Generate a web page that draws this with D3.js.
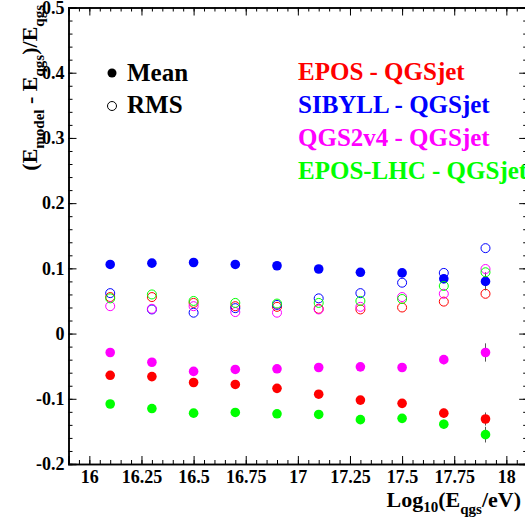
<!DOCTYPE html>
<html>
<head>
<meta charset="utf-8">
<script src="https://cdn.jsdelivr.net/npm/d3@7"></script>
<style>
	body { margin:0; background:white; }
</style>
</head>
<body>
<svg id="chart" width="525" height="525"></svg>
<script>
// energy bins, log10(E/eV)
var	energy		= [16.1, 16.3, 16.5, 16.7, 16.9, 17.1, 17.3, 17.5, 17.7, 17.9];
var	xTicks		= [16, 16.25, 16.5, 16.75, 17, 17.25, 17.5, 17.75, 18];
var	yTicks		= [-0.2, -0.1, 0, 0.1, 0.2, 0.3, 0.4, 0.5];

var	models		= ["EPOS - QGSjet", "SIBYLL - QGSjet", "QGS2v4 - QGSjet", "EPOS-LHC - QGSjet"];
var	colors		= ["#ff0000", "#0000ff", "#ff00ff", "#00ff00"];

// mean of (E_model - E_qgs)/E_qgs
var	meanEpos	= [-0.064, -0.066, -0.075, -0.078, -0.084, -0.093, -0.102, -0.107, -0.122, -0.131];
var	meanSibyll	= [0.106, 0.108, 0.109, 0.106, 0.104, 0.099, 0.094, 0.093, 0.084, 0.080];
var	meanQgs2	= [-0.029, -0.044, -0.058, -0.055, -0.054, -0.052, -0.051, -0.052, -0.040, -0.029];
var	meanEposLhc	= [-0.108, -0.115, -0.122, -0.121, -0.123, -0.124, -0.132, -0.130, -0.139, -0.155];
// error of the mean
var	errEpos		= [0.003, 0.003, 0.003, 0.003, 0.004, 0.004, 0.005, 0.006, 0.007, 0.010];
var	errSibyll	= [0.003, 0.003, 0.003, 0.003, 0.004, 0.004, 0.005, 0.006, 0.007, 0.014];
var	errQgs2		= [0.003, 0.003, 0.003, 0.003, 0.004, 0.004, 0.005, 0.006, 0.007, 0.014];
var	errEposLhc	= [0.003, 0.003, 0.003, 0.003, 0.004, 0.004, 0.005, 0.006, 0.007, 0.012];
// RMS
var	rmsEpos		= [0.056, 0.056, 0.047, 0.042, 0.041, 0.038, 0.037, 0.040, 0.049, 0.061];
var	rmsSibyll	= [0.062, 0.037, 0.032, 0.039, 0.044, 0.054, 0.062, 0.078, 0.093, 0.131];
var	rmsQgs2		= [0.042, 0.038, 0.042, 0.033, 0.032, 0.037, 0.041, 0.056, 0.061, 0.099];
var	rmsEposLhc	= [0.054, 0.060, 0.050, 0.047, 0.046, 0.047, 0.050, 0.053, 0.073, 0.094];

var	means	= [meanEpos, meanSibyll, meanQgs2, meanEposLhc],
	errs	= [errEpos, errSibyll, errQgs2, errEposLhc],
	rmss	= [rmsEpos, rmsSibyll, rmsQgs2, rmsEposLhc];

var	FONT	= "'Liberation Serif', 'Times New Roman', serif";

var	svg	= d3.select("#chart"),
	x	= d3.scaleLinear().domain([15.9, 18.1]).range([68.5, 527.2]),
	y	= d3.scaleLinear().domain([-0.2, 0.5]).range([464, 7.5]),
	fmt	= function(d) { return String(+d.toFixed(2)); };

var	xMinor	= d3.range(15.9, 18.1001, 0.05).map(function(d) { return +d.toFixed(2); }),
	yMinor	= d3.range(-0.2, 0.5001, 0.02).map(function(d) { return +d.toFixed(2); });

function txt(sel, size) {
	return sel.style("font-family", FONT).style("font-weight", "bold").style("font-size", size + "px");
}

function frameAxis(axis, tr) {
	var g = svg.append("g").attr("transform", tr).call(axis);
	g.select(".domain").attr("stroke-width", 1.5);
	g.selectAll(".tick line").attr("stroke-width", 1);
	return g;
}

// minor ticks first, then major on all four sides
frameAxis(d3.axisBottom(x).tickValues(xMinor).tickSize(-4).tickFormat(""), "translate(0," + y(-0.2) + ")");
frameAxis(d3.axisTop(x).tickValues(xMinor).tickSize(-4).tickFormat(""), "translate(0," + y(0.5) + ")");
frameAxis(d3.axisLeft(y).tickValues(yMinor).tickSize(-4).tickFormat(""), "translate(" + x(15.9) + ",0)");
frameAxis(d3.axisRight(y).tickValues(yMinor).tickSize(-4).tickFormat(""), "translate(" + x(18.1) + ",0)");

var	xAxis	= frameAxis(d3.axisBottom(x).tickValues(xTicks).tickSize(-8).tickPadding(6).tickFormat(fmt), "translate(0," + y(-0.2) + ")");
frameAxis(d3.axisTop(x).tickValues(xTicks).tickSize(-8).tickFormat(""), "translate(0," + y(0.5) + ")");
var	yAxis	= frameAxis(d3.axisLeft(y).tickValues(yTicks).tickSize(-8).tickPadding(4).tickFormat(fmt), "translate(" + x(15.9) + ",0)");
frameAxis(d3.axisRight(y).tickValues(yTicks).tickSize(-8).tickFormat(""), "translate(" + x(18.1) + ",0)");

txt(xAxis.selectAll("text").attr("fill", "black"), 18);
txt(yAxis.selectAll("text").attr("fill", "black"), 18);

// axis titles
var	xt	= txt(svg.append("text").attr("x", 521).attr("y", 507).attr("text-anchor", "end"), 22);
xt.append("tspan").text("Log");
xt.append("tspan").attr("dy", 5).style("font-size", "15px").text("10");
xt.append("tspan").attr("dy", -5).text("(E");
xt.append("tspan").attr("dy", 7).style("font-size", "15px").text("qgs");
xt.append("tspan").attr("dy", -7).text("/eV)");

var	yt	= txt(svg.append("text").attr("transform", "translate(37,5) rotate(-90)").attr("text-anchor", "end"), 22);
yt.append("tspan").text("(E");
yt.append("tspan").attr("dy", 7).style("font-size", "15px").text("model");
yt.append("tspan").attr("dy", -7).text(" - E");
yt.append("tspan").attr("dy", 7).style("font-size", "15px").text("qgs");
yt.append("tspan").attr("dy", -7).text(")/E");
yt.append("tspan").attr("dy", 7).style("font-size", "15px").text("qgs");

// data
var	plot	= svg.append("g");
models.forEach(function(m, k) {
	var	rows	= energy.map(function(e, i) { return {e:e, mean:means[k][i], err:errs[k][i], rms:rmss[k][i]}; });
	plot.append("g").selectAll("line").data(rows).enter().append("line")
		.attr("x1", function(d) { return x(d.e); }).attr("x2", function(d) { return x(d.e); })
		.attr("y1", function(d) { return y(d.mean - d.err); }).attr("y2", function(d) { return y(d.mean + d.err); })
		.attr("stroke", "#555").attr("stroke-width", 1);
	plot.append("g").selectAll("circle").data(rows).enter().append("circle")
		.attr("cx", function(d) { return x(d.e); }).attr("cy", function(d) { return y(d.mean); })
		.attr("r", 4.8).attr("fill", colors[k]);
	plot.append("g").selectAll("circle").data(rows).enter().append("circle")
		.attr("cx", function(d) { return x(d.e); }).attr("cy", function(d) { return y(d.rms); })
		.attr("r", 4.5).attr("fill", "none").attr("stroke", colors[k]).attr("stroke-width", 1);
});

// legends
svg.append("circle").attr("cx", 112).attr("cy", 73).attr("r", 4.5).attr("fill", "black");
svg.append("circle").attr("cx", 112).attr("cy", 106).attr("r", 4.5).attr("fill", "none").attr("stroke", "black").attr("stroke-width", 1);
txt(svg.append("text").attr("x", 127).attr("y", 81), 25).text("Mean");
txt(svg.append("text").attr("x", 127).attr("y", 113), 25).text("RMS");

txt(svg.append("g").selectAll("text").data(models).enter().append("text"), 25)
	.attr("x", 298).attr("y", function(d, i) { return 80 + i * 33; })
	.attr("fill", function(d, i) { return colors[i]; })
	.text(function(d) { return d; });
</script>
</body>
</html>
